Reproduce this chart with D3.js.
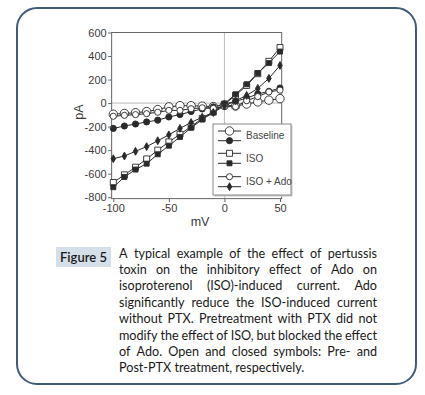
<!DOCTYPE html>
<html>
<head>
<meta charset="utf-8">
<script src="https://cdn.jsdelivr.net/npm/d3@7"></script>
<style>
  body { margin: 0; background: #fff; }
  svg { display: block; }
  .axis text { font-family: "Liberation Sans", Arial, sans-serif; font-size: 11px; fill: #3a3a3a; }
  .axis path, .axis line { stroke: #666; }
  .caption { font-family: Lato, "Open Sans", sans-serif; fill: #1a1a1a; }
</style>
</head>
<body>
<div id="chart"></div>
<script>
var width = 425, height = 395;

// voltage steps (mV)
var voltages = [-100, -90, -80, -70, -60, -50, -40, -30, -20, -10, 0, 10, 20, 30, 40, 50];

// currents (pA), open = pre-PTX, filled = post-PTX
var baselineOpen   = [-95, -88, -82, -72, -55, -32, -22, -22, -26, -30, -18, -25, -8, 10, 25, 38];
var baselineFilled = [-215, -195, -178, -160, -145, -118, -98, -72, -50, -32, -8, 15, 42, 78, 100, 128];
var isoOpen        = [-675, -610, -545, -475, -400, -330, -265, -200, -130, -75, -10, 65, 150, 250, 355, 472];
var isoFilled      = [-715, -628, -565, -515, -435, -362, -288, -210, -140, -80, -5, 75, 160, 255, 340, 438];
var adoOpen        = [-112, -104, -98, -90, -78, -62, -62, -48, -40, -45, -30, -30, 20, 55, 95, 110];
var adoFilled      = [-473, -450, -410, -370, -320, -270, -215, -165, -120, -80, -25, 20, 65, 125, 210, 320];

var xTicks = [-100, -50, 0, 50];
var yTicks = [600, 400, 200, 0, -200, -400, -600, -800];
var legendLabels = ["Baseline", "ISO", "ISO + Ado"];

var captionTag = "Figure 5";
var captionLines = [
  "A typical example of the effect of pertussis",
  "toxin on the inhibitory effect of Ado on",
  "isoproterenol (ISO)-induced current. Ado",
  "significantly reduce the ISO-induced current",
  "without PTX. Pretreatment with PTX did not",
  "modify the effect of ISO, but blocked the effect",
  "of Ado. Open and closed symbols: Pre- and",
  "Post-PTX treatment, respectively."
];

var series = [
  { values: baselineOpen,   shape: d3.symbolCircle,  size: 56, fill: "#fff" },
  { values: baselineFilled, shape: d3.symbolCircle,  size: 30, fill: "#2a2a2a" },
  { values: isoOpen,        shape: d3.symbolSquare,  size: 36, fill: "#fff" },
  { values: isoFilled,      shape: d3.symbolSquare,  size: 25, fill: "#2a2a2a" },
  { values: adoOpen,        shape: d3.symbolCircle,  size: 30, fill: "#fff" },
  { values: adoFilled,      shape: d3.symbolDiamond, size: 18, fill: "#2a2a2a" }
];

var svg = d3.select("#chart").append("svg")
  .attr("width", width)
  .attr("height", height);

// frame
svg.append("rect")
  .attr("x", 17).attr("y", 8)
  .attr("width", 399).attr("height", 376)
  .attr("rx", 20)
  .attr("fill", "none")
  .attr("stroke", "#405b7c")
  .attr("stroke-width", 2);

var x = d3.scaleLinear().domain([-100, 50]).range([113.3, 280]);
var y = d3.scaleLinear().domain([-800, 600]).range([197.2, 32.5]);

var plot = svg.append("g");

// zero lines
plot.append("line")
  .attr("x1", x(0)).attr("x2", x(0))
  .attr("y1", y(600)).attr("y2", y(-812))
  .attr("stroke", "#aaa").attr("stroke-width", 0.8);
plot.append("line")
  .attr("x1", x(-101.5)).attr("x2", x(51.5))
  .attr("y1", y(0)).attr("y2", y(0))
  .attr("stroke", "#aaa").attr("stroke-width", 0.8);

// box
plot.append("rect")
  .attr("x", x(-101.5)).attr("y", y(600))
  .attr("width", x(51.5) - x(-101.5))
  .attr("height", y(-812) - y(600))
  .attr("fill", "none")
  .attr("stroke", "#666");

var plain = function(d) { return String(d); };

svg.append("g")
  .attr("class", "axis")
  .attr("transform", "translate(" + x(-101.5) + ",0)")
  .call(d3.axisLeft(y).tickValues(yTicks).tickFormat(plain).tickSize(3.5).tickPadding(1.5))
  .call(function(g) { g.select(".domain").remove(); });

svg.append("g")
  .attr("class", "axis")
  .attr("transform", "translate(0," + y(-812) + ")")
  .call(d3.axisBottom(x).tickValues(xTicks).tickFormat(plain).tickSize(3.5).tickPadding(2))
  .call(function(g) { g.select(".domain").remove(); });

svg.append("text")
  .attr("x", 200).attr("y", 226)
  .attr("text-anchor", "middle")
  .style("font-family", "Liberation Sans, Arial, sans-serif")
  .style("font-size", "12.5px")
  .attr("fill", "#3a3a3a")
  .text("mV");

svg.append("text")
  .attr("transform", "translate(83,112) rotate(-90)")
  .attr("text-anchor", "middle")
  .style("font-family", "Liberation Sans, Arial, sans-serif")
  .style("font-size", "12.5px")
  .attr("fill", "#3a3a3a")
  .text("pA");

var line = d3.line()
  .x(function(d, i) { return x(voltages[i]); })
  .y(function(d) { return y(d); });

series.forEach(function(s) {
  plot.append("path")
    .datum(s.values)
    .attr("fill", "none")
    .attr("stroke", "#2a2a2a")
    .attr("stroke-width", 1)
    .attr("d", line);
});

series.forEach(function(s) {
  plot.selectAll(null)
    .data(s.values)
    .enter().append("path")
      .attr("transform", function(d, i) { return "translate(" + x(voltages[i]) + "," + y(d) + ")"; })
      .attr("d", d3.symbol().type(s.shape).size(s.size))
      .attr("fill", s.fill)
      .attr("stroke", "#2a2a2a")
      .attr("stroke-width", 0.9);
});

// legend
var legend = svg.append("g");
legend.append("rect")
  .attr("x", 214.5).attr("y", 125.5)
  .attr("width", 78).attr("height", 71)
  .attr("fill", "#ccc");
legend.append("rect")
  .attr("x", 213).attr("y", 124)
  .attr("width", 78).attr("height", 71)
  .attr("fill", "#fff")
  .attr("stroke", "#888");

var rowY = [131, 140.7, 153.3, 163.3, 176.7, 186.7];
series.forEach(function(s, i) {
  legend.append("line")
    .attr("x1", 218).attr("x2", 241)
    .attr("y1", rowY[i]).attr("y2", rowY[i])
    .attr("stroke", "#2a2a2a");
  legend.append("path")
    .attr("transform", "translate(229.5," + rowY[i] + ")")
    .attr("d", d3.symbol().type(s.shape).size(s.size))
    .attr("fill", s.fill)
    .attr("stroke", "#2a2a2a")
    .attr("stroke-width", 0.9);
});

legend.selectAll(".lab")
  .data(legendLabels)
  .enter().append("text")
    .attr("x", 246)
    .attr("y", function(d, i) { return (rowY[2 * i] + rowY[2 * i + 1]) / 2 + 3.5; })
    .style("font-family", "Liberation Sans, Arial, sans-serif")
    .style("font-size", "10px")
    .attr("fill", "#444")
    .text(function(d) { return d; });

// caption
svg.append("rect")
  .attr("x", 56).attr("y", 247)
  .attr("width", 55).attr("height", 20)
  .attr("fill", "#d5dfe9");
svg.append("text")
  .attr("class", "caption")
  .attr("x", 83.5).attr("y", 261.5)
  .attr("text-anchor", "middle")
  .style("font-size", "13px")
  .style("font-weight", 600)
  .text(captionTag);

var capX = 119, capW = 258, capY = 257.5, lineH = 16.4;
var fontSize = 13.3;
var cap = svg.append("g").attr("class", "caption").style("font-size", fontSize + "px");

function wordWidths(words, fs) {
  return words.map(function(w) {
    var t = cap.append("text").style("font-size", fs + "px").text(w);
    var len = t.node().getComputedTextLength();
    t.remove();
    return len;
  });
}

// shrink the font a little if the longest line does not fit
var worst = 0;
captionLines.forEach(function(l) {
  var words = l.split(" ");
  var total = d3.sum(wordWidths(words, fontSize)) + (words.length - 1) * 3;
  worst = Math.max(worst, total / capW);
});
if (worst > 1) fontSize = fontSize / worst;

captionLines.forEach(function(l, li) {
  var words = l.split(" ");
  var ws = wordWidths(words, fontSize);
  var last = li === captionLines.length - 1;
  var gap = last ? 3.2 : (capW - d3.sum(ws)) / (words.length - 1);
  var pos = capX;
  words.forEach(function(w, wi) {
    cap.append("text")
      .attr("x", pos)
      .attr("y", capY + li * lineH)
      .style("font-size", fontSize + "px")
      .text(w);
    pos += ws[wi] + gap;
  });
});
</script>
</body>
</html>
